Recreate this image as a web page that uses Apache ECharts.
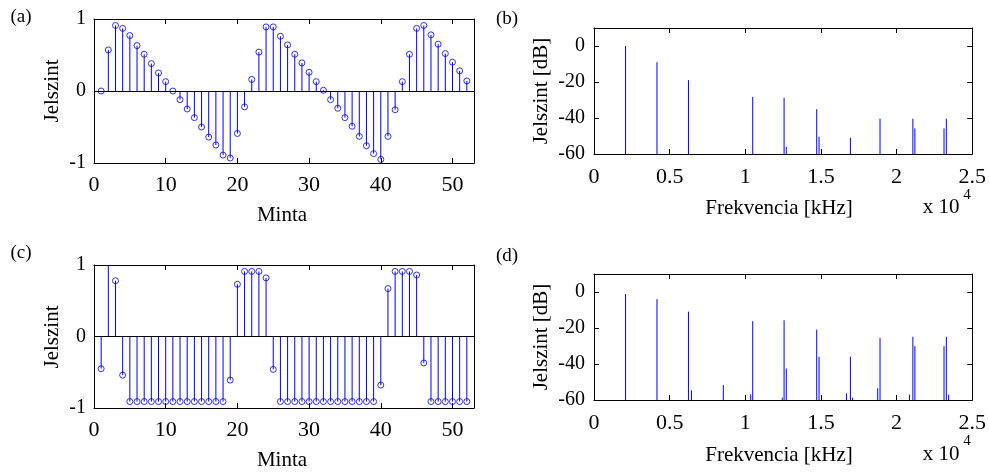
<!DOCTYPE html>
<html>
<head>
<meta charset="utf-8">
<script src="https://cdn.jsdelivr.net/npm/echarts@6/dist/echarts.min.js"></script>
<style>
  html, body { margin: 0; padding: 0; background: #fff; }
  #chart { width: 989px; height: 475px; }
</style>
</head>
<body>
<div id="chart"></div>
<script>
// Sample index of the time-domain panels
const sampleIndex = [1,2,3,4,5,6,7,8,9,10,11,12,13,14,15,16,17,18,19,20,21,22,23,24,25,26,
  27,28,29,30,31,32,33,34,35,36,37,38,39,40,41,42,43,44,45,46,47,48,49,50,51,52];

// (a) sampled sawtooth-like signal
const signalA = [0, 0.57, 0.91, 0.87, 0.77, 0.63, 0.51, 0.38, 0.25, 0.13,
  0.0, -0.12, -0.25, -0.37, -0.50, -0.64, -0.75, -0.89, -0.93, -0.59,
  -0.22, 0.16, 0.54, 0.89, 0.89, 0.76, 0.64, 0.51, 0.39, 0.26,
  0.13, 0.01, -0.12, -0.24, -0.37, -0.49, -0.63, -0.76, -0.87, -0.95,
  -0.63, -0.26, 0.13, 0.51, 0.87, 0.91, 0.78, 0.65, 0.52, 0.40,
  0.28, 0.14];

// (c) distorted (saturated) version
const signalC = [-0.45, 1.15, 0.78, -0.54, -0.91, -0.91, -0.91, -0.91, -0.91, -0.91,
  -0.91, -0.91, -0.91, -0.91, -0.91, -0.91, -0.91, -0.91, -0.61, 0.73,
  0.91, 0.91, 0.91, 0.82, -0.46, -0.91, -0.91, -0.91, -0.91, -0.91,
  -0.91, -0.91, -0.91, -0.91, -0.91, -0.91, -0.91, -0.91, -0.91, -0.68,
  0.67, 0.91, 0.91, 0.91, 0.86, -0.37, -0.91, -0.91, -0.91, -0.91,
  -0.91, -0.91];

// (b) spectrum of (a): frequency [Hz] and level [dB]
const freqB  = [2085, 4163, 6242, 10491, 12563, 12709, 14721, 14874, 16946, 18904, 21076, 21208, 23134, 23287];
const levelB = [0, -9.0, -19.0, -28.3, -28.8, -56.1, -35.1, -50.4, -51.0, -40.4, -40.4, -45.8, -45.8, -40.4];

// (d) spectrum of (c)
const freqD  = [2085, 4163, 6242, 6441, 8546, 10359, 10491, 12444, 12563, 12709, 14721, 14874,
  16693, 16946, 17092, 18752, 18904, 20850, 21076, 21208, 23134, 23287, 23440];
const levelD = [-1.1, -4.0, -10.9, -54.6, -51.7, -56.9, -16.2, -58.7, -15.7, -42.5, -20.9, -36.0,
  -56.3, -36.0, -58.7, -53.5, -25.5, -57.0, -24.9, -30.1, -30.1, -24.9, -57.0];

// Tick label values
const sampleTicks = [0, 10, 20, 30, 40, 50];
const ampTicks = [-1, 0, 1];
const freqTicks = [0, 5000, 10000, 15000, 20000, 25000];
const dbTicks = [-60, -40, -20, 0];

const FONT = 'Liberation Serif';
const BLUE = '#0000ff';
const X_LABEL_SIZE = 22;
const Y_LABEL_SIZE = 20;

const pairs = (xs, ys) => xs.map((x, i) => [x, ys[i]]);

const grids = [
  { left: 94, top: 19, width: 380, height: 144 },   // (a)
  { left: 594, top: 28, width: 379, height: 126 },  // (b)
  { left: 94, top: 265, width: 380, height: 143 },  // (c)
  { left: 594, top: 274, width: 379, height: 126 }  // (d)
].map(g => Object.assign(g, { show: false, containLabel: false }));

const lineStyle = { show: true, onZero: false, lineStyle: { color: '#000', width: 1 } };
const tickStyle = { show: true, inside: true, length: 5, lineStyle: { color: '#000', width: 1 } };

function xAxes(gridIndex, min, max, interval, ticks, fmt, margin) {
  return [
    { type: 'value', gridIndex, min, max, interval, position: 'bottom',
      axisLine: lineStyle, splitLine: { show: false }, axisTick: tickStyle,
      axisLabel: { customValues: ticks, margin, formatter: fmt,
        color: '#000', fontFamily: FONT, fontSize: X_LABEL_SIZE } },
    { type: 'value', gridIndex, min, max, interval, position: 'top',
      axisLine: lineStyle, splitLine: { show: false }, axisTick: tickStyle,
      axisLabel: { show: false } }
  ];
}
function yAxes(gridIndex, min, max, interval, ticks, margin) {
  return [
    { type: 'value', gridIndex, min, max, interval, position: 'left',
      axisLine: lineStyle, splitLine: { show: false }, axisTick: tickStyle,
      axisLabel: { customValues: ticks, margin,
        color: '#000', fontFamily: FONT, fontSize: Y_LABEL_SIZE } },
    { type: 'value', gridIndex, min, max, interval, position: 'right',
      axisLine: lineStyle, splitLine: { show: false }, axisTick: tickStyle,
      axisLabel: { show: false } }
  ];
}

const freqFmt = v => String(v / 10000);

const xAxis = [].concat(
  xAxes(0, 0, 53, 10, sampleTicks, null, 11),
  xAxes(1, 0, 25000, 5000, freqTicks, freqFmt, 12),
  xAxes(2, 0, 53, 10, sampleTicks, null, 11),
  xAxes(3, 0, 25000, 5000, freqTicks, freqFmt, 12)
);
const yAxis = [].concat(
  yAxes(0, -1, 1, 1, ampTicks, 8),
  yAxes(1, -60, 10, 20, dbTicks, 9),
  yAxes(2, -1, 1, 1, ampTicks, 8),
  yAxes(3, -60, 10, 20, dbTicks, 9)
);

// Vertical line from a base level to each data value
function stemRenderer(base) {
  return function (params, api) {
    const x = api.value(0), y = api.value(1);
    const p0 = api.coord([x, base]);
    const p1 = api.coord([x, y]);
    return { type: 'line', shape: { x1: p0[0], y1: p0[1], x2: p1[0], y2: p1[1] },
      style: { stroke: BLUE, lineWidth: 1 } };
  };
}

function stemSeries(axisIdx, values) {
  const data = pairs(sampleIndex, values);
  return [
    { type: 'custom', xAxisIndex: axisIdx * 2, yAxisIndex: axisIdx * 2, clip: true,
      renderItem: stemRenderer(0), data, silent: true, z: 3,
      markLine: { silent: true, symbol: 'none', label: { show: false },
        lineStyle: { color: '#000', width: 1, type: 'solid' }, data: [{ yAxis: 0 }] } },
    { type: 'scatter', xAxisIndex: axisIdx * 2, yAxisIndex: axisIdx * 2, clip: true,
      symbol: 'circle', symbolSize: 6, data, silent: true, z: 4,
      itemStyle: { color: 'rgba(0,0,0,0)', borderColor: BLUE, borderWidth: 1 } }
  ];
}
function specSeries(axisIdx, freqs, levels) {
  return [{ type: 'custom', xAxisIndex: axisIdx * 2, yAxisIndex: axisIdx * 2, clip: true,
    renderItem: stemRenderer(-60), data: pairs(freqs, levels), silent: true }];
}

const series = [].concat(
  stemSeries(0, signalA),
  specSeries(1, freqB, levelB),
  stemSeries(2, signalC),
  specSeries(3, freqD, levelD)
);

function txt(text, x, y, size, opts) {
  return Object.assign({ type: 'text', x, y, silent: true,
    style: { text, x: 0, y: 0, fill: '#000', font: size + 'px "' + FONT + '"',
      align: 'center', verticalAlign: 'middle' } }, opts || {});
}

const graphic = [
  txt('(a)', 21, 17, 19),
  txt('(b)', 507, 19, 19),
  txt('(c)', 21, 253, 19),
  txt('(d)', 507, 256, 19),
  txt('Jelszint', 52, 91, 21, { rotation: Math.PI / 2 }),
  txt('Jelszint', 52, 337, 21, { rotation: Math.PI / 2 }),
  txt('Jelszint [dB]', 541, 91, 21, { rotation: Math.PI / 2 }),
  txt('Jelszint [dB]', 541, 337, 21, { rotation: Math.PI / 2 }),
  txt('Minta', 282, 215, 21),
  txt('Minta', 282, 460, 21),
  txt('Frekvencia [kHz]', 779, 208, 21),
  txt('Frekvencia [kHz]', 779, 455, 21),
  txt('x 10', 941, 207, 21),
  txt('4', 967, 195, 15),
  txt('x 10', 941, 454, 21),
  txt('4', 967, 441, 15)
];

const chart = echarts.init(document.getElementById('chart'), null, { renderer: 'canvas' });
chart.setOption({
  animation: false,
  backgroundColor: '#fff',
  grid: grids,
  xAxis,
  yAxis,
  series,
  graphic
});
</script>
</body>
</html>
